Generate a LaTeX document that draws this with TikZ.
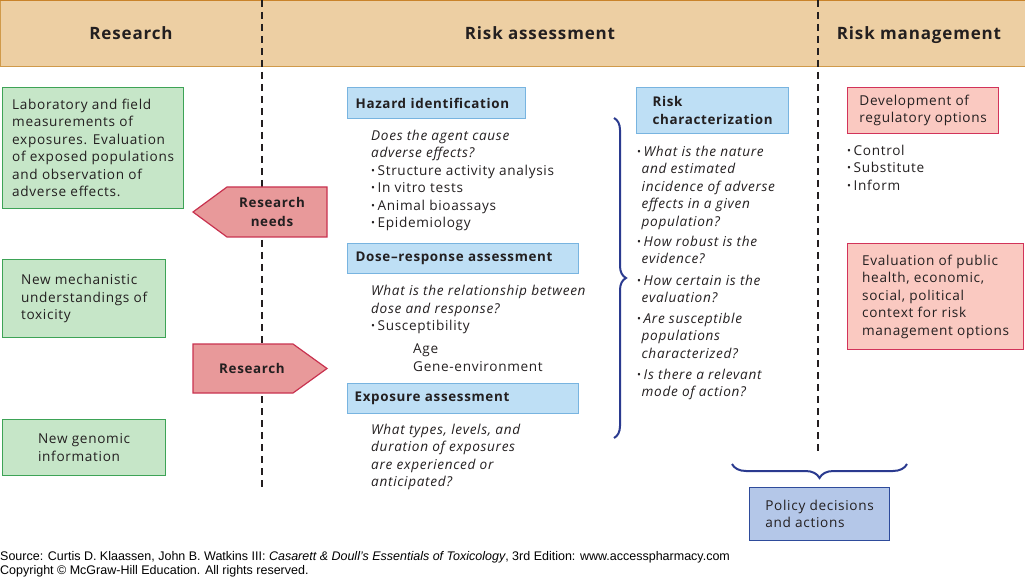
\documentclass[tikz,border=0pt]{standalone}
\usepackage{fontspec}
\setmainfont[LetterSpace=5]{Open Sans}
\newfontfamily\footfont{Liberation Sans}
\usetikzlibrary{decorations.pathreplacing}
\definecolor{hdrfill}{HTML}{EDCFA3}
\definecolor{hdrline}{HTML}{D09A4A}
\definecolor{hdrtop}{HTML}{C9832A}
\definecolor{gfill}{HTML}{C6E6C8}
\definecolor{gline}{HTML}{3DA356}
\definecolor{bfill}{HTML}{BEDFF5}
\definecolor{bline}{HTML}{78B4E0}
\definecolor{pfill}{HTML}{FAC9C1}
\definecolor{pline}{HTML}{D2335A}
\definecolor{afill}{HTML}{E8999A}
\definecolor{aline}{HTML}{C8324F}
\definecolor{polfill}{HTML}{B4C7E8}
\definecolor{polline}{HTML}{2E4B9B}
\definecolor{bracec}{HTML}{2A3A8F}
\definecolor{txtc}{HTML}{231F20}
\newcommand\bul{\raisebox{0.1ex}{\fontsize{10.5}{10}\selectfont •}\hspace{2.5pt}}
\tikzset{
  body/.style={font=\fontsize{13.6}{17.5}\selectfont, text=txtc, align=left, inner sep=0pt},
  hdr/.style={font=\bfseries\fontsize{17}{20}\selectfont, text=txtc, inner sep=0pt, anchor=base},
  greenbox/.style={body, draw=gline, fill=gfill, line width=1.2pt, anchor=north west},
  bluebox/.style={font=\bfseries\fontsize{13.4}{17.5}\selectfont, text=txtc, align=left, draw=bline, fill=bfill, line width=1.2pt, anchor=north west, inner ysep=0pt},
  pinkbox/.style={body, draw=pline, fill=pfill, line width=1.2pt, anchor=north west},
  polbox/.style={body, draw=polline, fill=polfill, line width=1.2pt, anchor=north west},
  arrowshape/.style={draw=aline, fill=afill, line width=1.2pt, line join=miter},
  arrowtext/.style={font=\bfseries\fontsize{13.4}{18.5}\selectfont, text=txtc, align=center, inner sep=0pt},
  divider/.style={dashed, dash pattern=on 7pt off 5pt, line width=2.3pt, draw=txtc},
  bracestyle/.style={draw=bracec, line width=2pt, decorate},
  txtblock/.style={body, anchor=north west},
}
\begin{document}
\begin{tikzpicture}[x=1pt,y=-1pt]
\useasboundingbox (0,0) rectangle (1025,577);
% header band
\fill[hdrfill] (0,0) rectangle (1025,67);
\draw[hdrline, line width=1pt] (0.5,0) -- (0.5,67) -- (1025,67);
\draw[hdrtop, line width=1.5pt] (0,0.75) -- (1025,0.75);
\node[hdr] (hres) at (131,39.5) {Research};
\node[hdr] (hra) at (540,39.5) {Risk assessment};
\node[hdr] (hrm) at (919,39.5) {Risk management};
% dividers
\coordinate (d1t) at (262,0);
\coordinate (d1b) at (262,487);
\coordinate (d2t) at (818,0);
\coordinate (d2b) at (818,455);
\draw[divider] (d1t) -- (d1b);
\draw[divider] (d2t) -- (d2b);
% green boxes
\node[greenbox, minimum width=181, minimum height=121] (lab) at (2,87)
  {Laboratory and field\\measurements of\\exposures. Evaluation\\of exposed populations\\and observation of\\adverse effects.};
\node[greenbox, minimum width=163, minimum height=78] (mech) at (2,259)
  {New mechanistic\\understandings of\\toxicity};
\node[greenbox, minimum width=163, minimum height=56] (geno) at (2,419)
  {New genomic\\information};
% arrows
\draw[arrowshape] (327,187) -- (227,187) -- (193,212) -- (227,237) -- (327,237) -- cycle;
\node[arrowtext] (rneeds) at (272,212) {Research\\needs};
\draw[arrowshape] (193,344) -- (293,344) -- (327,368.5) -- (293,393) -- (193,393) -- cycle;
\node[arrowtext] (rarrow) at (252,368.5) {Research};
% risk assessment column
\node[bluebox, minimum width=178, minimum height=31, text width=162] (haz) at (347,87) {Hazard identification};
\node[txtblock] (hazt) at (371,129.5)
  {\textit{Does the agent cause}\\\textit{adverse effects?}\\\bul Structure activity analysis\\\bul In vitro tests\\\bul Animal bioassays\\\bul Epidemiology};
\node[bluebox, minimum width=231, minimum height=30, text width=215] (dose) at (347,243) {Dose–response assessment};
\node[txtblock] (doset) at (371,285)
  {\textit{What is the relationship between}\\\textit{dose and response?}\\\bul Susceptibility};
\node[txtblock] (doseb) at (413,344) {Age\\Gene-environment};
\node[bluebox, minimum width=231, minimum height=30, text width=217, inner xsep=6pt] (expo) at (347,383) {Exposure assessment};
\node[txtblock] (expot) at (371,423.5)
  {\textit{What types, levels, and}\\\textit{duration of exposures}\\\textit{are experienced or}\\\textit{anticipated?}};
% brace
\coordinate (br1) at (614,118);
\coordinate (br2) at (614,438);
\draw[bracestyle, decoration={brace, amplitude=12pt}] (br1) -- (br2);
% risk characterization
\node[bluebox, minimum width=152, minimum height=46] (rc) at (636,87) {Risk\\characterization};
\node[txtblock] (rct1) at (637,145.5)
  {\bul\textit{What is the nature}\\\hphantom{\bul}\hspace{-2pt}\textit{and estimated}\\\hphantom{\bul}\hspace{-2pt}\textit{incidence of adverse}\\\hphantom{\bul}\hspace{-2pt}\textit{effects in a given}\\\hphantom{\bul}\hspace{-2pt}\textit{population?}};
\node[txtblock] (rct2) at (637,235.5)
  {\bul\textit{How robust is the}\\\hphantom{\bul}\hspace{-2pt}\textit{evidence?}};
\node[txtblock] (rct3) at (637,274.5)
  {\bul\textit{How certain is the}\\\hphantom{\bul}\hspace{-2pt}\textit{evaluation?}};
\node[txtblock] (rct4) at (637,312.5)
  {\bul\textit{Are susceptible}\\\hphantom{\bul}\hspace{-2pt}\textit{populations}\\\hphantom{\bul}\hspace{-2pt}\textit{characterized?}};
\node[txtblock] (rct5) at (637,368.5)
  {\bul\textit{Is there a relevant}\\\hphantom{\bul}\hspace{-2pt}\textit{mode of action?}};
% risk management
\node[pinkbox, minimum width=151, minimum height=46] (dev) at (847,87) {Development of\\regulatory options};
\node[txtblock] (devt) at (847,144.5) {\bul Control\\\bul Substitute\\\bul Inform};
\node[pinkbox, minimum width=176, minimum height=106] (eval) at (847,243)
  {Evaluation of public\\health, economic,\\social, political\\context for risk\\management options};
% bottom brace
\coordinate (bb1) at (907,464);
\coordinate (bb2) at (732,464);
\draw[bracestyle, decoration={brace, amplitude=14pt}] (bb1) -- (bb2);
\node[polbox, minimum width=140, minimum height=53] (pol) at (749,487) {Policy decisions\\and actions};
% footer
\node[anchor=north west, inner sep=0pt, align=left, font=\footfont\fontsize{12.5}{14}\selectfont] (foot) at (0,551.5)
  {Source: Curtis D. Klaassen, John B. Watkins III: \textit{Casarett \& Doull’s Essentials of Toxicology}, 3rd Edition: www.accesspharmacy.com\\Copyright © McGraw-Hill Education. All rights reserved.};
\end{tikzpicture}
\end{document}
